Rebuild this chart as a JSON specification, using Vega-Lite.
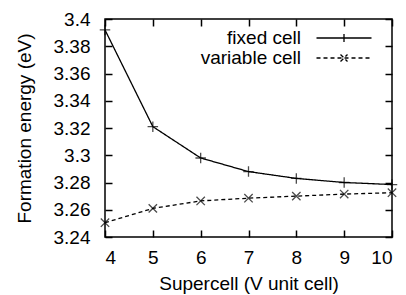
{
  "$schema": "https://vega.github.io/schema/vega-lite/v6.json",
  "width": 287,
  "height": 218,
  "autosize": {"type": "none"},
  "padding": {"left": 105, "top": 19, "right": 14, "bottom": 58},
  "background": "#ffffff",
  "config": {
    "view": {"stroke": "#000000", "strokeWidth": 1.5},
    "font": "Liberation Sans",
    "axis": {
      "domain": false,
      "grid": false,
      "tickSize": -7,
      "tickColor": "#000000",
      "tickWidth": 1.5,
      "labelFont": "Liberation Sans",
      "labelFontSize": 19,
      "labelColor": "#000000",
      "titleFont": "Liberation Sans",
      "titleFontSize": 19,
      "titleFontWeight": "normal",
      "titleColor": "#000000"
    },
    "legend": {
      "labelFont": "Liberation Sans",
      "labelFontSize": 19,
      "labelColor": "#000000"
    }
  },
  "data": {
    "values": [
      {"supercell": 4, "energy": 3.392, "series": "fixed cell"},
      {"supercell": 5, "energy": 3.321, "series": "fixed cell"},
      {"supercell": 6, "energy": 3.298, "series": "fixed cell"},
      {"supercell": 7, "energy": 3.288, "series": "fixed cell"},
      {"supercell": 8, "energy": 3.283, "series": "fixed cell"},
      {"supercell": 9, "energy": 3.280, "series": "fixed cell"},
      {"supercell": 10, "energy": 3.2785, "series": "fixed cell"},
      {"supercell": 4, "energy": 3.2505, "series": "variable cell"},
      {"supercell": 5, "energy": 3.261, "series": "variable cell"},
      {"supercell": 6, "energy": 3.2665, "series": "variable cell"},
      {"supercell": 7, "energy": 3.2685, "series": "variable cell"},
      {"supercell": 8, "energy": 3.270, "series": "variable cell"},
      {"supercell": 9, "energy": 3.2715, "series": "variable cell"},
      {"supercell": 10, "energy": 3.2725, "series": "variable cell"}
    ]
  },
  "layer": [
    {
      "mark": {"type": "line", "color": "#000000", "strokeWidth": 1.3},
      "encoding": {
        "x": {
          "field": "supercell", "type": "quantitative",
          "scale": {"domain": [4, 10], "nice": false, "zero": false},
          "axis": {"orient": "bottom", "values": [4, 5, 6, 7, 8, 9, 10], "title": "Supercell (V unit cell)", "labelPadding": 18, "titlePadding": 7}
        },
        "y": {
          "field": "energy", "type": "quantitative",
          "scale": {"domain": [3.24, 3.4], "nice": false, "zero": false},
          "axis": {"orient": "left", "values": [3.24, 3.26, 3.28, 3.3, 3.32, 3.34, 3.36, 3.38, 3.4], "format": ".3~g", "title": "Formation energy (eV)", "labelPadding": 22, "titlePadding": 19}
        },
        "strokeDash": {
          "field": "series", "type": "nominal",
          "scale": {"domain": ["fixed cell", "variable cell"], "range": [[1, 0], [4, 3]]},
          "legend": {
            "title": null,
            "orient": "none",
            "legendX": 229.5,
            "legendY": 9.5,
            "padding": 0,
            "rowPadding": 0,
            "symbolSize": 100,
            "symbolStrokeColor": "#000000",
            "symbolFillColor": "transparent",
            "symbolStrokeWidth": 1.3,
            "labelAlign": "right",
            "labelOffset": -52.5,
            "encode": {
              "symbols": {
                "update": {
                  "shape": {"signal": "datum.value === 'fixed cell' ? 'M-5.5,0H5.5M0,-0.8V0.8' : 'M-5.5,0H5.5M-0.7,-0.7L0.7,0.7M-0.7,0.7L0.7,-0.7'"},
                  "stroke": {"value": "#000000"},
                  "fill": {"value": "transparent"}
                }
              }
            }
          }
        }
      }
    },
    {
      "transform": [{"filter": "datum.series === 'fixed cell'"}],
      "mark": {"type": "point", "filled": false, "color": "#000000", "strokeWidth": 1.3, "size": 110, "shape": "M-1,0H1M0,-1V1"},
      "encoding": {
        "x": {"field": "supercell", "type": "quantitative", "axis": null},
        "y": {"field": "energy", "type": "quantitative", "axis": null}
      }
    },
    {
      "transform": [{"filter": "datum.series === 'variable cell'"}],
      "mark": {"type": "point", "filled": false, "color": "#000000", "strokeWidth": 1.3, "size": 110, "shape": "M-0.8,-0.8L0.8,0.8M-0.8,0.8L0.8,-0.8"},
      "encoding": {
        "x": {"field": "supercell", "type": "quantitative", "axis": null},
        "y": {"field": "energy", "type": "quantitative", "axis": null}
      }
    },
    {
      "mark": {"type": "point", "opacity": 0},
      "encoding": {
        "x": {"field": "supercell", "type": "quantitative", "axis": {"orient": "top", "values": [4, 5, 6, 7, 8, 9, 10], "labels": false, "title": null}},
        "y": {"field": "energy", "type": "quantitative", "axis": {"orient": "right", "values": [3.24, 3.26, 3.28, 3.3, 3.32, 3.34, 3.36, 3.38, 3.4], "labels": false, "title": null}}
      }
    }
  ],
  "resolve": {"axis": {"x": "independent", "y": "independent"}}
}
